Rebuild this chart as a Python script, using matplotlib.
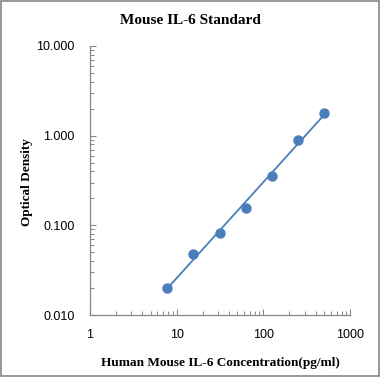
import numpy as np
import matplotlib
matplotlib.use("Agg")
import matplotlib.pyplot as plt
from matplotlib.patches import Rectangle
from matplotlib.ticker import FixedLocator, FixedFormatter, LogLocator, NullFormatter

# Data
concentration = [7.8, 15.6, 31.25, 62.5, 125, 250, 500]
optical_density = [0.020, 0.048, 0.082, 0.155, 0.358, 0.889, 1.78]
x_tick_vals = [1, 10, 100, 1000]
x_tick_labels = ["1", "10", "100", "1000"]
y_tick_vals = [0.01, 0.1, 1, 10]
y_tick_labels = ["0.010", "0.100", "1.000", "10.000"]

title = "Mouse IL-6 Standard"
xlabel = "Human Mouse IL-6 Concentration(pg/ml)"
ylabel = "Optical Density"

blue = "#4a7ebb"
gray = "#868686"
serif = ["Liberation Serif", "DejaVu Serif"]
sans = ["Liberation Sans", "DejaVu Sans"]

fig = plt.figure(figsize=(3.80, 3.77), dpi=100)
ax = fig.add_axes([90/380, 1-315/377, 260/380, 269/377])

# power trendline (fit in log-log space)
lx = np.log10(concentration)
ly = np.log10(optical_density)
b, a = np.polyfit(lx, ly, 1)
xs = np.logspace(lx.min(), lx.max(), 50)
ax.plot(xs, 10**a * xs**b, color=blue, lw=1.3, zorder=2)
ax.plot(concentration, optical_density, 'o', color=blue, ms=6.5, zorder=3)

ax.set_xscale('log')
ax.set_yscale('log')
ax.set_xlim(1, 1000)
ax.set_ylim(0.01, 10)

ax.xaxis.set_major_locator(FixedLocator(x_tick_vals))
ax.xaxis.set_major_formatter(FixedFormatter(x_tick_labels))
ax.yaxis.set_major_locator(FixedLocator(y_tick_vals))
ax.yaxis.set_major_formatter(FixedFormatter(y_tick_labels))
ax.xaxis.set_minor_locator(LogLocator(base=10, subs=np.arange(2, 10)))
ax.yaxis.set_minor_locator(LogLocator(base=10, subs=np.arange(2, 10)))
ax.xaxis.set_minor_formatter(NullFormatter())
ax.yaxis.set_minor_formatter(NullFormatter())

for s in ['top', 'right']:
    ax.spines[s].set_visible(False)
for s in ['left', 'bottom']:
    ax.spines[s].set_color(gray)
    ax.spines[s].set_linewidth(0.9)

ax.tick_params(which='major', direction='in', length=4, width=0.8, color=gray,
               labelsize=9)
ax.tick_params(which='minor', direction='in', length=3, width=0.7, color=gray)
ax.tick_params(axis='x', which='major', pad=10)
ax.tick_params(axis='y', which='major', pad=11)
for lab in ax.get_xticklabels() + ax.get_yticklabels():
    lab.set_family(sans)

fig.text(190/380, 1-21/377, title, ha='center', va='center',
         fontsize=11, fontweight='bold', family=serif)
fig.text(220/380, 1-363/377, xlabel, ha='center', va='center',
         fontsize=9.5, fontweight='bold', family=serif)
fig.text(27/380, 1-182/377, ylabel, ha='center', va='center', rotation=90,
         fontsize=9.5, fontweight='bold', family=serif)

fig.patches.append(Rectangle((0.003, 0.003), 0.994, 0.994, transform=fig.transFigure,
                             fill=False, edgecolor=gray, lw=1.2))

fig.savefig("out.png", dpi=100)
